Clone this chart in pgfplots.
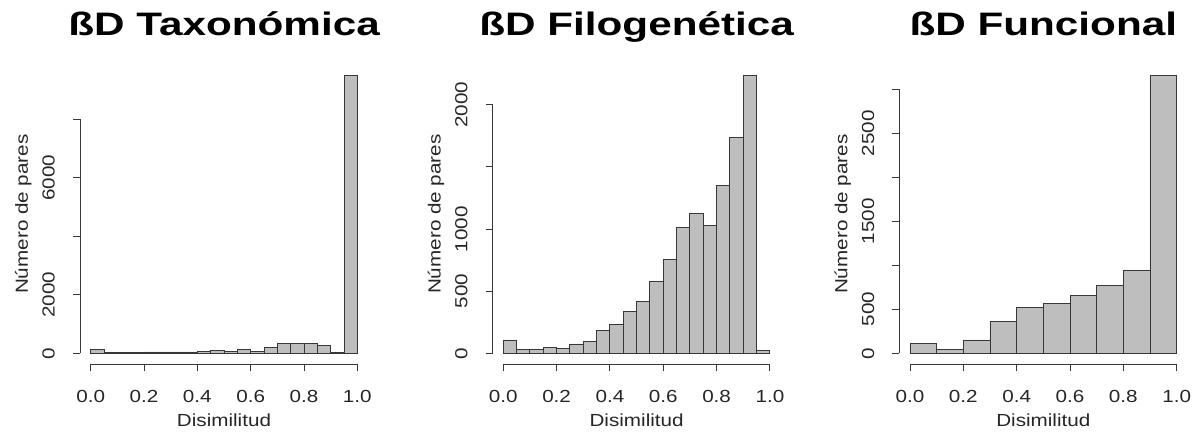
\documentclass[border=0pt]{standalone}
\usepackage{pgfplots}
\pgfplotsset{compat=1.18}
\usepackage{fontspec}
\setmainfont{Liberation Sans}[FakeStretch=1.18]
\newfontfamily\titlefont{Liberation Sans}[FakeStretch=1.3]
\definecolor{barfill}{RGB}{190,190,190}
\definecolor{lin}{RGB}{55,55,55}
\pgfplotsset{
 rhist/.style={
  scale only axis, width=288bp, height=300.5bp,
  anchor=south west,
  xmin=-0.04, xmax=1.04,
  axis x line*=bottom, axis y line*=left,
  axis line style={draw=none},
  tick align=outside,
  major tick length=7bp,
  minor tick num=0,
  tick style={lin, line width=0.9bp},
  xtick={0,0.2,0.4,0.6,0.8,1},
  xticklabels={0.0,0.2,0.4,0.6,0.8,1.0},
  ticklabel style={font=\fontsize{17.5bp}{20bp}\selectfont, text=black!85},
  /pgf/number format/assume math mode=true,
  xticklabel style={anchor=base},
  xticklabel shift=30.6bp,
  yticklabel style={rotate=90, anchor=base},
  yticklabel shift=18.3bp,
  clip=false,
  xlabel={Disimilitud}, ylabel={Número de pares},
  label style={font=\fontsize{17.5bp}{20bp}\selectfont, text=black!85},
  xlabel style={at={(axis description cs:0.5,-0.2063)}, anchor=base},
  ylabel style={at={(axis description cs:-0.1806,0.5)}, anchor=base},
  title style={at={(axis description cs:0.5,1.0762)}, anchor=base, font=\titlefont\bfseries\fontsize{32.5bp}{36bp}\selectfont},
 },
 bars/.style={ybar interval, fill=barfill, draw=lin, line width=0.9bp},
}
\begin{document}
\begin{tikzpicture}
\useasboundingbox (0,0) rectangle (1197bp,432bp);
% Panel 1
\begin{axis}[rhist, at={(80bp,67.6bp)},
  ymin=-380.6, ymax=9895.6,
  ytick={0,2000,4000,6000,8000}, yticklabels={0,2000,,6000,},
  title={ßD Taxonómica}]
\addplot[bars] coordinates {
(0.00,120) (0.05,20) (0.10,35) (0.15,15) (0.20,45) (0.25,45) (0.30,45) (0.35,45)
(0.40,55) (0.45,105) (0.50,70) (0.55,125) (0.60,60) (0.65,190) (0.70,345) (0.75,350)
(0.80,345) (0.85,265) (0.90,40) (0.95,9515) (1.00,9515)};
\draw[lin, line width=0.9bp] (axis cs:0,-380.6) -- (axis cs:1,-380.6);
\draw[lin, line width=0.9bp] (axis cs:-0.04,0) -- (axis cs:-0.04,8000);
\end{axis}
% Panel 2
\begin{axis}[rhist, at={(492.6bp,67.6bp)},
  ymin=-89.6, ymax=2329.6,
  ytick={0,500,1000,1500,2000}, yticklabels={0,500,1000,,2000},
  title={ßD Filogenética}]
\addplot[bars] coordinates {
(0.00,107) (0.05,27) (0.10,27) (0.15,45) (0.20,42) (0.25,75) (0.30,94) (0.35,182)
(0.40,235) (0.45,334) (0.50,414) (0.55,578) (0.60,754) (0.65,1011) (0.70,1123) (0.75,1029)
(0.80,1350) (0.85,1738) (0.90,2240) (0.95,21) (1.00,21)};
\draw[lin, line width=0.9bp] (axis cs:0,-89.6) -- (axis cs:1,-89.6);
\draw[lin, line width=0.9bp] (axis cs:-0.04,0) -- (axis cs:-0.04,2000);
\end{axis}
% Panel 3
\begin{axis}[rhist, at={(899.3bp,67.6bp)},
  ymin=-126.4, ymax=3285.4,
  ytick={0,500,1000,1500,2000,2500,3000}, yticklabels={0,500,,1500,,2500,},
  title={ßD Funcional}]
\addplot[bars] coordinates {
(0.0,106) (0.1,38) (0.2,151) (0.3,356) (0.4,518) (0.5,564) (0.6,654) (0.7,768)
(0.8,938) (0.9,3159) (1.0,3159)};
\draw[lin, line width=0.9bp] (axis cs:0,-126.4) -- (axis cs:1,-126.4);
\draw[lin, line width=0.9bp] (axis cs:-0.04,0) -- (axis cs:-0.04,3000);
\end{axis}
\end{tikzpicture}
\end{document}
